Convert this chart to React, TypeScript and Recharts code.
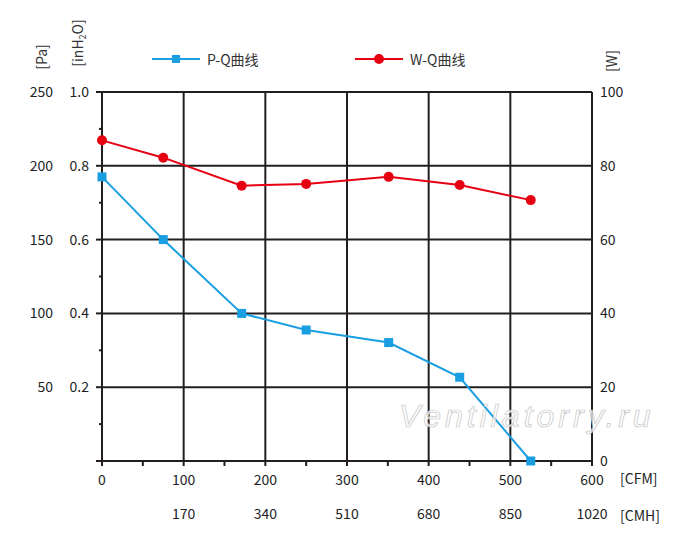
import { ComposedChart, Line, XAxis, YAxis, ReferenceLine, Legend } from 'recharts';

// airflow points (CFM) shared by both curves
const cfm = [0, 75, 171, 250, 351, 438, 525];
// static pressure, inH2O
const pressure = [0.77, 0.6, 0.4, 0.355, 0.321, 0.227, 0];
// input power, W
const power = [86.9, 82.2, 74.6, 75.1, 77.0, 74.8, 70.7];

const cfmTicks = [0, 50, 100, 150, 200, 250, 300, 350, 400, 450, 500, 550, 600];
const cfmLabels = [0, 100, 200, 300, 400, 500, 600];
const cmhLabels = ['', '170', '340', '510', '680', '850', '1020'];
const inTicks = [0, 0.1, 0.2, 0.3, 0.4, 0.5, 0.6, 0.7, 0.8, 0.9, 1.0];
const inLabels = [0.2, 0.4, 0.6, 0.8, 1.0];
const paLabels = ['50', '100', '150', '200', '250'];
const wTicks = [0, 20, 40, 60, 80, 100];

const data = cfm.map((q, i) => ({ cfm: q, pq: pressure[i], wq: power[i] }));

const INK = '#221e1f';
const BLUE = '#1a9ee2';
const RED = '#e60012';
const FONT = '"Noto Sans CJK SC", "Noto Sans", sans-serif';

// left axis: inH2O label next to the axis, Pa label further out, minor ticks between
const InTick = (props: any) => {
  const { x, y, payload } = props;
  const idx = inLabels.indexOf(payload.value);
  const major = idx >= 0;
  const len = major || payload.value === 0 ? 6 : 3;
  return (
    <g>
      <line x1={x - len} x2={x} y1={y} y2={y} stroke={INK} strokeWidth={2} />
      {major && (
        <text x={x - 13} y={y + 5} textAnchor="end" fontSize={14} fill={INK} fontFamily={FONT}>
          {payload.value.toFixed(1)}
        </text>
      )}
      {major && (
        <text x={x - 49} y={y + 5} textAnchor="end" fontSize={14} fill={INK} fontFamily={FONT}>
          {paLabels[idx]}
        </text>
      )}
    </g>
  );
};

// bottom axis: CFM label with the CMH equivalent on a second row
const FlowTick = (props: any) => {
  const { x, y, payload } = props;
  const idx = cfmLabels.indexOf(payload.value);
  if (idx < 0) return <g />;
  return (
    <g fontSize={14} fill={INK} fontFamily={FONT}>
      <text x={x} y={y + 10} textAnchor="middle">{cfmLabels[idx]}</text>
      <text x={x} y={y + 44} textAnchor="middle">{cmhLabels[idx]}</text>
    </g>
  );
};

const BlueSquare = (props: any) => (
  <rect key={props.index} x={props.cx - 4.5} y={props.cy - 4.5} width={9} height={9} fill={BLUE} />
);

const RedDot = (props: any) => (
  <circle key={props.index} cx={props.cx} cy={props.cy} r={5} fill={RED} />
);

const legendLeft = [152, 355];

const LegendContent = (props: any) => {
  const items = props.payload || [];
  return (
    <div style={{ position: 'relative', width: 700, height: 20 }}>
      {items.map((it: any, i: number) => (
        <div key={it.value} style={{ position: 'absolute', left: legendLeft[i], top: 0, display: 'flex', alignItems: 'center', height: 20 }}>
          <svg width={50} height={20}>
            <line x1={0} x2={48} y1={10} y2={10} stroke={it.color} strokeWidth={2} />
            {i === 0 ? <rect x={20} y={6} width={8} height={8} fill={it.color} /> : <circle cx={24} cy={10} r={5} fill={it.color} />}
          </svg>
          <span style={{ marginLeft: 5, fontSize: 14, color: '#333', fontFamily: FONT }}>{it.value}</span>
        </div>
      ))}
    </div>
  );
};

const vLabel = (left: number, top: number): any => ({
  position: 'absolute', left, top, transform: 'translate(-50%, -50%) rotate(-90deg)',
  fontSize: 14, color: '#333', fontFamily: FONT, whiteSpace: 'nowrap',
});

export default function App() {
  return (
    <div style={{ position: 'absolute', left: 0, top: 0, width: 700, height: 546, background: '#fff', fontFamily: FONT }}>
      <ComposedChart width={700} height={546} data={data} margin={{ top: 92, right: 68, bottom: 49, left: 0 }}>
        <XAxis xAxisId="cfm" dataKey="cfm" type="number" domain={[0, 600]} ticks={cfmTicks} interval={0}
          height={36} tickSize={5} tickMargin={9} tick={<FlowTick />}
          axisLine={{ stroke: INK, strokeWidth: 2 }} tickLine={{ stroke: INK, strokeWidth: 2 }}
          label={{ value: '[CFM]', position: 'right', offset: 28, fill: INK, fontSize: 14 }} />
        <YAxis yAxisId="in" type="number" domain={[0, 1]} ticks={inTicks} interval={0} width={102}
          tickSize={0} tickMargin={0} tick={<InTick />} tickLine={false}
          axisLine={{ stroke: INK, strokeWidth: 2 }} />
        <YAxis yAxisId="w" orientation="right" type="number" domain={[0, 100]} ticks={wTicks} interval={0} width={40}
          tickSize={0} tickMargin={8} axisLine={false} tickLine={false}
          tick={{ fill: INK, fontSize: 14, textAnchor: 'start' }} />

        {inLabels.map((v) => (
          <ReferenceLine key={'h' + v} xAxisId="cfm" yAxisId="in" y={v} stroke={INK} strokeWidth={2} />
        ))}
        {cfmLabels.slice(1).map((v) => (
          <ReferenceLine key={'v' + v} xAxisId="cfm" yAxisId="in" x={v} stroke={INK} strokeWidth={2} />
        ))}

        <Legend verticalAlign="middle" align="center" layout="horizontal" content={<LegendContent />}
          wrapperStyle={{ top: 49, left: 0, width: 700 }} />

        <Line xAxisId="cfm" yAxisId="in" dataKey="pq" name="P-Q曲线" stroke={BLUE} strokeWidth={2}
          dot={BlueSquare} activeDot={false} isAnimationActive={false} />
        <Line xAxisId="cfm" yAxisId="w" dataKey="wq" name="W-Q曲线" stroke={RED} strokeWidth={2}
          dot={RedDot} activeDot={false} isAnimationActive={false} />
      </ComposedChart>

      <div style={vLabel(41, 57)}>[Pa]</div>
      <div style={vLabel(78, 43)}>
        [inH<span style={{ fontSize: 9, verticalAlign: 'sub' }}>2</span>O]
      </div>
      <div style={vLabel(611, 61)}>[W]</div>
      <div style={{ position: 'absolute', left: 620, top: 506, fontSize: 14, color: INK, fontFamily: FONT, lineHeight: '18px' }}>
        [CMH]
      </div>

      <div style={{
        position: 'absolute', left: 399, top: 400, fontSize: 32, lineHeight: 1, fontStyle: 'italic',
        letterSpacing: 4, fontFamily: '"Liberation Sans", sans-serif', color: 'rgba(255,255,255,0.75)',
        WebkitTextStroke: '0.7px #c4c4c4', pointerEvents: 'none', whiteSpace: 'nowrap',
      }}>
        Ventilatorry.ru
      </div>
    </div>
  );
}
